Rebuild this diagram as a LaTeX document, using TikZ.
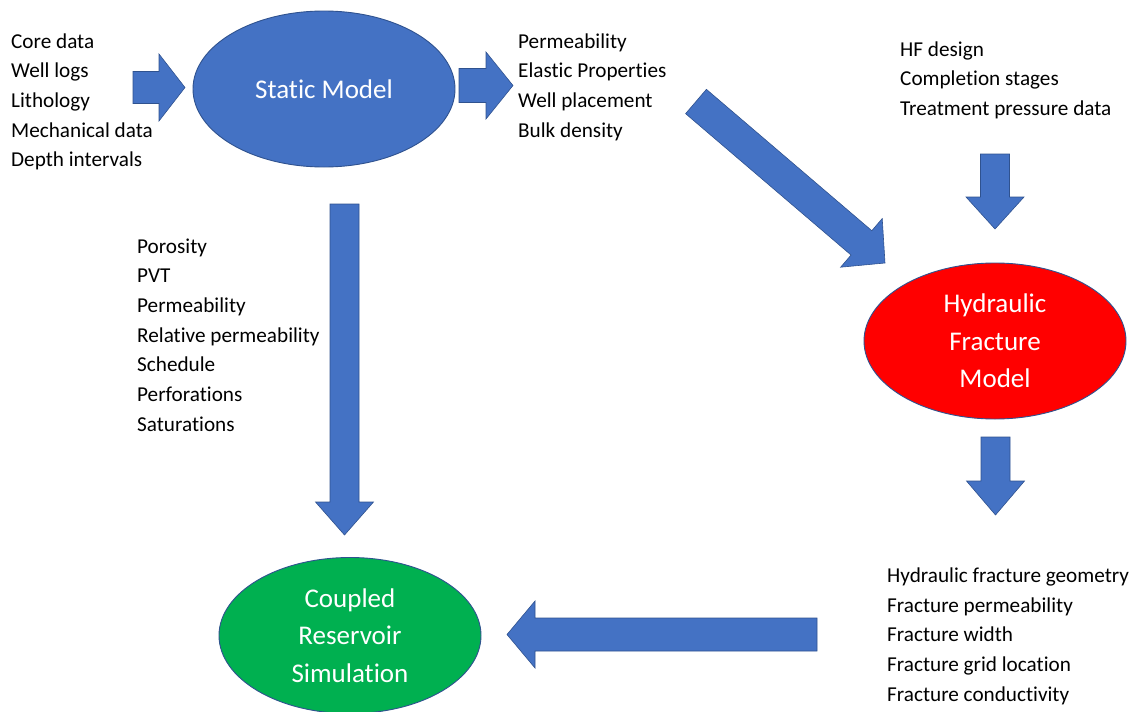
\documentclass[tikz,border=0pt]{standalone}
\usepackage{fontspec}
\setmainfont[RawFeature={-liga;-clig;-dlig;-calt}]{Carlito}
\usetikzlibrary{calc,shapes.geometric}
\definecolor{accblue}{HTML}{4472C4}
\definecolor{accline}{HTML}{2F528F}
\definecolor{accgreen}{HTML}{00B050}
\definecolor{accred}{HTML}{FF0000}
\tikzset{
  oval/.style={ellipse, draw=accline, line width=0.9pt, minimum width=262pt, minimum height=156pt,
    inner sep=0pt, text=white, align=center, font=\fontsize{27}{37.7}\selectfont},
  listtext/.style={anchor=base west, inner sep=0pt, align=left, text=black,
    font=\fontsize{21.2}{29.7}\selectfont},
  blockarrow/.style={fill=accblue, draw=accline, line width=0.6pt, line join=miter},
}
% #1 start (centre of tail), #2 tip, #3 half body width, #4 half head width, #5 head length
\newcommand\fatarrow[5]{%
  \path[blockarrow]
    ($(#1)!#3!90:(#2)$) --
    ($($(#2)!#5!(#1)$)!#3!-90:(#1)$) --
    ($($(#2)!#5!(#1)$)!#4!-90:(#1)$) --
    (#2) --
    ($($(#2)!#5!(#1)$)!#4!90:(#1)$) --
    ($($(#2)!#5!(#1)$)!#3!90:(#1)$) --
    ($(#1)!#3!-90:(#2)$) -- cycle;}
\begin{document}
\begin{tikzpicture}[x=1pt,y=-1pt]
\useasboundingbox (0,0) rectangle (1136,712);

% ellipses
\node[oval, fill=accblue] (static) at (324,89) {Static Model};
\node[oval, fill=accred] (hfm) at (995,341) {Hydraulic\\Fracture\\Model};
\node[oval, fill=accgreen] (crs) at (350,635.5) {Coupled\\Reservoir\\Simulation};

% text lists (anchored at the baseline of their last line)
\node[listtext] (inputs) at (11,166.8) {Core data\\Well logs\\Lithology\\Mechanical data\\Depth intervals};
\node[listtext] (props) at (518,137.1) {Permeability\\Elastic Properties\\Well placement\\Bulk density};
\node[listtext] (hfin) at (900,115.4) {HF design\\Completion stages\\Treatment pressure data};
\node[listtext] (simin) at (137,431.2) {Porosity\\PVT\\Permeability\\Relative permeability\\Schedule\\Perforations\\Saturations};
\node[listtext] (hfout) at (887,701.3) {Hydraulic fracture geometry\\Fracture permeability\\Fracture width\\Fracture grid location\\Fracture conductivity};

% arrow end points
\coordinate (a1s) at (133,87.5);  \coordinate (a1t) at (185,87.5);
\coordinate (a2s) at (459,85.5);  \coordinate (a2t) at (513,85.5);
\coordinate (a3s) at (696,101.5); \coordinate (a3t) at (885,263);
\coordinate (a4s) at (995,154);   \coordinate (a4t) at (995,229);
\coordinate (a5s) at (995.5,437); \coordinate (a5t) at (995.5,515);
\coordinate (a6s) at (344.5,204); \coordinate (a6t) at (344.5,535);
\coordinate (a7s) at (817,634.5); \coordinate (a7t) at (507,634.5);

\fatarrow{a1s}{a1t}{16pt}{33.5pt}{26pt}
\fatarrow{a2s}{a2t}{17pt}{33.5pt}{27pt}
\fatarrow{a3s}{a3t}{16pt}{32pt}{31pt}
\fatarrow{a4s}{a4t}{14.5pt}{29pt}{32pt}
\fatarrow{a5s}{a5t}{14.5pt}{29pt}{34pt}
\fatarrow{a6s}{a6t}{14.5pt}{29pt}{33pt}
\fatarrow{a7s}{a7t}{16.5pt}{33.5pt}{28pt}
\end{tikzpicture}
\end{document}
